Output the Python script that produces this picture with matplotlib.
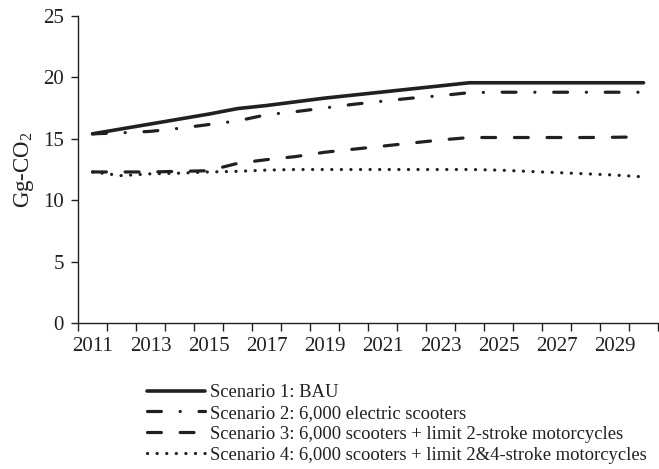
import matplotlib
matplotlib.use("Agg")
import matplotlib.pyplot as plt
from matplotlib.ticker import FixedLocator

plt.rcParams['font.family'] = ['Liberation Serif', 'DejaVu Serif']
plt.rcParams['mathtext.fontset'] = 'custom'
plt.rcParams['mathtext.rm'] = 'Liberation Serif'
plt.rcParams['mathtext.it'] = 'Liberation Serif:italic'
plt.rcParams['lines.scale_dashes'] = False

years = list(range(2011, 2031))
scenario1 = [15.4, 15.8, 16.2, 16.6, 17.0, 17.45, 17.7, 18.0, 18.3, 18.55,
             18.8, 19.05, 19.3, 19.55, 19.55, 19.55, 19.55, 19.55, 19.55, 19.55]
scenario2 = [15.4, 15.48, 15.6, 15.85, 16.15, 16.45, 16.95, 17.2, 17.5, 17.8,
             18.05, 18.3, 18.5, 18.75, 18.78, 18.78, 18.78, 18.78, 18.78, 18.78]
scenario3 = [12.3, 12.3, 12.3, 12.35, 12.4, 13.0, 13.3, 13.55, 13.9, 14.15,
             14.4, 14.65, 14.9, 15.1, 15.1, 15.1, 15.1, 15.1, 15.12, 15.15]
scenario4 = [12.3, 12.0, 12.15, 12.2, 12.3, 12.35, 12.45, 12.5, 12.5, 12.5,
             12.5, 12.5, 12.5, 12.5, 12.45, 12.35, 12.25, 12.15, 12.05, 11.9]
labels = ["Scenario 1: BAU",
          "Scenario 2: 6,000 electric scooters",
          "Scenario 3: 6,000 scooters + limit 2-stroke motorcycles",
          "Scenario 4: 6,000 scooters + limit 2&4-stroke motorcycles"]
year_labels = [str(y) for y in range(2011, 2030, 2)]
yticks = [0, 5, 10, 15, 20, 25]

color = '#231f20'
fig = plt.figure(figsize=(6.59, 4.69), dpi=100)
ax = fig.add_axes([78/659, 1-323.3/469, 580/659, (323.3-15.7)/469])

ax.plot(years, scenario1, color=color, lw=2.6, solid_capstyle='round', label=labels[0])
ax.plot(years, scenario2, color=color, lw=2.3, dash_capstyle='round',
        dashes=(10, 13.5, 0.1, 13.5), label=labels[1])
ax.plot(years, scenario3, color=color, lw=2.3, dash_capstyle='round',
        dashes=(10, 13.5), label=labels[2])
ax.plot(years, scenario4, color=color, lw=2.3, dash_capstyle='round',
        dashes=(0.1, 6.8), label=labels[3])

ax.set_xlim(years[0] - 0.5, years[-1] + 0.5)
ax.set_ylim(0, 25)
ax.set_yticks(yticks)
ax.set_xticks([int(s) for s in year_labels])
ax.set_xticklabels(year_labels)
ax.xaxis.set_minor_locator(FixedLocator([y - 0.5 for y in years] + [years[-1] + 0.5]))
ax.tick_params(axis='x', which='major', length=0, pad=10, labelsize=15, colors=color)
ax.tick_params(axis='x', which='minor', length=6, width=1, direction='out', color=color)
ax.tick_params(axis='y', which='major', length=5, width=1, direction='out', pad=5,
               labelsize=15, colors=color)
for s in ['top', 'right']:
    ax.spines[s].set_visible(False)
for s in ['left', 'bottom']:
    ax.spines[s].set_color(color)
    ax.spines[s].set_linewidth(1.0)
ax.set_ylabel(r'Gg-CO$_2$', fontsize=16.5, color=color, labelpad=5)

leg = fig.legend(loc='upper left', bbox_to_anchor=(147/659, 1-384/469),
                 frameon=False, fontsize=13.4, handlelength=3.12, handletextpad=0.28,
                 labelspacing=0.21, borderpad=0, borderaxespad=0)
for t in leg.get_texts():
    t.set_color(color)

fig.savefig('out.png', dpi=100)
